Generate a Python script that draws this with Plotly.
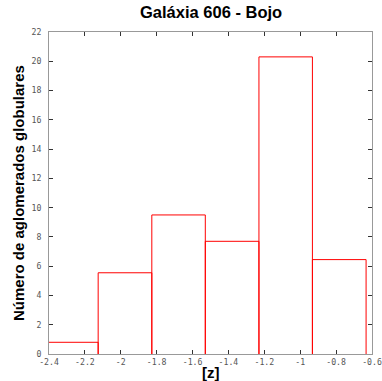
import plotly.graph_objects as go

bin_edges = [-2.424, -2.126, -1.827, -1.529, -1.230, -0.932, -0.633]
counts = [0.8, 5.55, 9.5, 7.7, 20.3, 6.45]
x_tick_vals = [-2.4, -2.2, -2.0, -1.8, -1.6, -1.4, -1.2, -1.0, -0.8, -0.6]
x_tick_text = ["-2.4", "-2.2", "-2", "-1.8", "-1.6", "-1.4", "-1.2", "-1", "-0.8", "-0.6"]
y_tick_vals = [0, 2, 4, 6, 8, 10, 12, 14, 16, 18, 20, 22]
y_tick_text = ["0", "2", "4", "6", "8", "10", "12", "14", "16", "18", "20", "22"]

# histogram outline: each bin drawn as an open-bottom rectangle
xs, ys = [], []
for i, c in enumerate(counts):
    a, b = bin_edges[i], bin_edges[i + 1]
    xs += [a, a, b, b, None]
    ys += [0, c, c, 0, None]

fig = go.Figure()
fig.add_trace(go.Scatter(
    x=xs, y=ys, mode="lines", line=dict(color="#ff0000", width=1),
    showlegend=False, hoverinfo="skip", cliponaxis=True,
))

tickfont = dict(family="DejaVu Sans Mono", size=8.2, color="#555555")
axis_common = dict(
    showgrid=False, zeroline=False, showline=True, linecolor="#999999", linewidth=1,
    mirror="ticks", ticks="inside", ticklen=4, tickcolor="#333333", tickwidth=1,
    tickfont=tickfont, automargin=False,
)

bold = dict(family="Liberation Sans, Arial", color="black")
fig.update_layout(
    width=382, height=381,
    paper_bgcolor="white", plot_bgcolor="white",
    margin=dict(l=49, r=10, t=32, b=27),
    xaxis=dict(range=[-2.4, -0.6], tickvals=x_tick_vals, ticktext=x_tick_text,
               ticklabelstandoff=0, **axis_common),
    yaxis=dict(range=[0, 22], tickvals=y_tick_vals, ticktext=y_tick_text,
               ticklabelstandoff=5, **axis_common),
    annotations=[
        dict(text="<b>Galáxia 606 - Bojo</b>", xref="paper", yref="paper",
             x=0.5, y=1, yshift=20, xanchor="center", yanchor="middle",
             showarrow=False, font=dict(size=16.5, **bold)),
        dict(text="<b>[z]</b>", xref="paper", yref="paper",
             x=0.5, y=0, yshift=-18, xanchor="center", yanchor="middle",
             showarrow=False, font=dict(size=15, **bold)),
        dict(text="<b>Número de aglomerados globulares</b>", xref="paper", yref="paper",
             x=0, xshift=-31, y=0.5, textangle=-90, xanchor="center", yanchor="middle",
             showarrow=False, font=dict(size=15, **bold)),
    ],
)

fig.write_html("out.html", config={"displayModeBar": False},
               post_script="document.body.style.margin='0px';document.body.style.overflow='hidden';")
